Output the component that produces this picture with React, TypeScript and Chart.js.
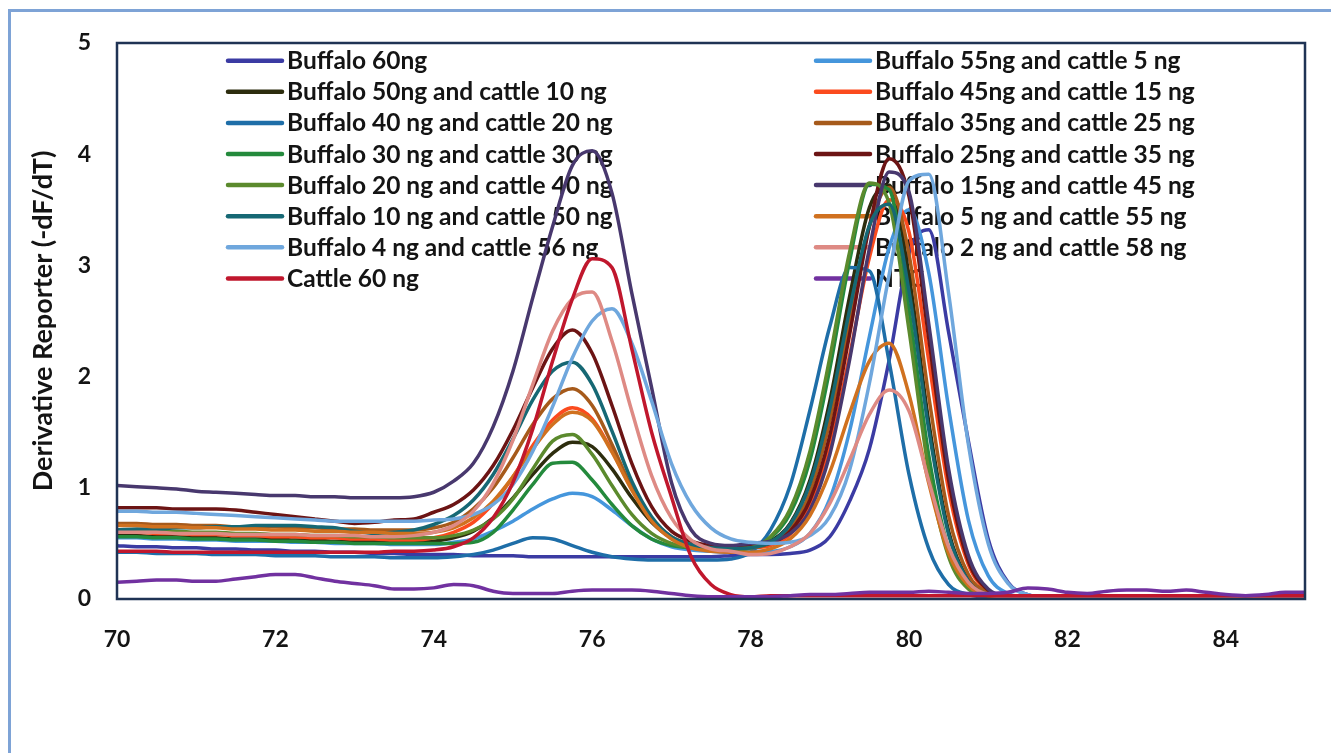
import React, { useEffect, useRef } from "react";
import { Chart, registerables } from "chart.js";

Chart.register(...registerables);

// Temperature grid (°C)
const TEMPS = [
  70, 70.25, 70.5, 70.75, 71, 71.25, 71.5, 71.75, 72, 72.25, 72.5, 72.75,
  73, 73.25, 73.5, 73.75, 74, 74.25, 74.5, 74.75, 75, 75.25, 75.5, 75.75,
  76, 76.25, 76.5, 76.75, 77, 77.25, 77.5, 77.75, 78, 78.25, 78.5, 78.75,
  79, 79.25, 79.5, 79.75, 80, 80.25, 80.5, 80.75, 81, 81.25, 81.5, 81.75,
  82, 82.25, 82.5, 82.75, 83, 83.25, 83.5, 83.75, 84, 84.25, 84.5, 84.75, 85,
];

const X_TICKS = [70, 72, 74, 76, 78, 80, 82, 84];
const Y_TICKS = [0, 1, 2, 3, 4, 5];

const buffalo60 = [
  .48, .47, .47, .46, .46, .45, .45, .44, .44, .43, .43, .42, .42, .41, .41, .40,
  .40, .40, .39, .39, .39, .38, .38, .38, .38, .38, .38, .38, .38, .38, .38, .39,
  .40, .40, .41, .44, .56, .88, 1.35, 2.15, 3.11, 3.32, 2.40, 1.42, .54, .15, .04, .02,
  .02, .02, .03, .02, .02, .02, .02, .03, .02, .02, .02, .02, .02,
];
const b55c5 = [
  .55, .55, .54, .54, .53, .53, .52, .52, .52, .51, .51, .50, .50, .50, .49, .49,
  .49, .51, .54, .61, .70, .81, .90, .95, .92, .80, .66, .54, .47, .44, .43, .42,
  .43, .43, .47, .59, .90, 1.51, 2.36, 3.16, 3.50, 2.93, 1.72, .71, .21, .05, .02, .02,
  .03, .02, .02, .02, .02, .03, .02, .02, .02, .02, .03, .02, .02,
];
const b50c10 = [
  .57, .57, .56, .56, .55, .55, .54, .54, .54, .53, .53, .52, .52, .52, .51, .51,
  .52, .55, .61, .73, .91, 1.12, 1.31, 1.41, 1.37, 1.17, .91, .69, .55, .48, .46, .45,
  .47, .52, .68, 1.07, 1.78, 2.72, 3.52, 3.72, 2.91, 1.59, .61, .17, .05, .02, .02, .02,
  .02, .03, .02, .02, .02, .02, .02, .03, .02, .02, .02, .02, .02,
];
const b45c15 = [
  .60, .60, .59, .59, .58, .58, .57, .57, .56, .56, .55, .55, .54, .54, .53, .53,
  .55, .60, .69, .86, 1.10, 1.38, 1.61, 1.72, 1.62, 1.33, .99, .72, .56, .49, .46, .45,
  .46, .48, .58, .83, 1.36, 2.19, 3.07, 3.59, 3.30, 2.14, .98, .31, .07, .02, .02, .03,
  .02, .02, .02, .03, .02, .02, .02, .02, .03, .02, .02, .02, .03,
];
const b40c20 = [
  .42, .42, .41, .41, .41, .40, .40, .40, .39, .39, .39, .38, .38, .38, .37, .37,
  .37, .38, .40, .44, .50, .55, .54, .48, .42, .38, .36, .35, .35, .35, .35, .36,
  .42, .62, 1.02, 1.70, 2.45, 2.98, 2.95, 2.13, 1.12, .45, .13, .04, .02, .02, .02, .02,
  .02, .02, .03, .02, .02, .02, .02, .02, .02, .03, .02, .02, .02,
];
const b35c25 = [
  .68, .68, .67, .67, .66, .66, .65, .65, .65, .64, .64, .63, .63, .62, .62, .62,
  .64, .69, .81, 1.00, 1.27, 1.57, 1.80, 1.89, 1.74, 1.39, 1.00, .72, .55, .48, .46, .45,
  .46, .50, .63, .96, 1.60, 2.50, 3.35, 3.70, 3.10, 1.82, .75, .22, .06, .02, .02, .02,
  .03, .02, .02, .02, .02, .02, .03, .02, .02, .02, .02, .02, .02,
];
const b30c30 = [
  .56, .56, .55, .55, .54, .54, .53, .53, .52, .52, .51, .51, .50, .50, .50, .50,
  .50, .50, .51, .60, .80, 1.03, 1.22, 1.23, 1.07, .85, .66, .54, .48, .46, .45, .44,
  .46, .55, .77, 1.25, 2.07, 3.04, 3.73, 3.68, 2.60, 1.29, .45, .11, .03, .02, .02, .02,
  .02, .02, .02, .02, .03, .02, .02, .02, .02, .02, .02, .03, .02,
];
const b25c35 = [
  .82, .82, .82, .81, .81, .81, .80, .78, .76, .74, .72, .70, .68, .69, .71, .72,
  .78, .85, .98, 1.20, 1.52, 1.90, 2.25, 2.42, 2.21, 1.74, 1.22, .83, .61, .52, .48, .47,
  .48, .50, .61, .89, 1.47, 2.38, 3.35, 3.96, 3.62, 2.34, 1.07, .34, .08, .02, .02, .02,
  .02, .02, .02, .02, .02, .02, .02, .02, .02, .02, .02, .02, .02,
];
const b20c40 = [
  .62, .62, .61, .61, .60, .60, .59, .59, .58, .58, .57, .57, .56, .56, .55, .55,
  .55, .57, .62, .72, .90, 1.17, 1.42, 1.48, 1.30, 1.02, .76, .59, .50, .46, .45, .45,
  .46, .56, .81, 1.33, 2.17, 3.12, 3.74, 3.56, 2.42, 1.15, .38, .09, .03, .02, .02, .02,
  .02, .02, .02, .02, .02, .03, .02, .02, .02, .02, .02, .02, .02,
];
const b15c45 = [
  1.02, 1.01, 1.00, .99, .97, .96, .95, .94, .93, .93, .92, .92, .91, .91, .91, .92,
  .96, 1.06, 1.22, 1.55, 2.05, 2.71, 3.35, 3.90, 4.03, 3.65, 2.75, 1.90, 1.05, .62, .50, .48,
  .50, .52, .59, .80, 1.30, 2.15, 3.15, 3.84, 3.66, 2.47, 1.17, .39, .09, .03, .02, .02,
  .02, .02, .02, .02, .02, .02, .02, .02, .02, .02, .02, .02, .02,
];
const b10c50 = [
  .62, .63, .63, .64, .64, .65, .65, .66, .66, .66, .65, .64, .61, .59, .60, .62,
  .67, .75, .89, 1.12, 1.44, 1.79, 2.05, 2.13, 1.93, 1.51, 1.06, .74, .56, .49, .46, .45,
  .46, .51, .67, 1.04, 1.71, 2.60, 3.36, 3.55, 2.77, 1.52, .58, .16, .04, .02, .02, .02,
  .02, .02, .02, .02, .02, .02, .02, .02, .02, .02, .02, .02, .02,
];
const b5c55 = [
  .66, .66, .65, .65, .64, .64, .63, .63, .62, .62, .61, .61, .60, .60, .59, .59,
  .60, .64, .73, .88, 1.10, 1.35, 1.57, 1.68, 1.60, 1.32, .98, .70, .54, .46, .43, .42,
  .42, .45, .54, .75, 1.14, 1.67, 2.14, 2.30, 1.84, 1.04, .41, .12, .03, .02, .02, .02,
  .02, .02, .02, .02, .02, .02, .02, .02, .02, .02, .02, .02, .02,
];
const b4c56 = [
  .79, .79, .78, .78, .77, .76, .75, .74, .73, .72, .71, .70, .70, .70, .70, .70,
  .71, .72, .76, .85, 1.03, 1.33, 1.73, 2.17, 2.50, 2.61, 2.30, 1.78, 1.22, .85, .64, .54,
  .51, .50, .51, .57, .74, 1.16, 1.94, 2.92, 3.76, 3.82, 2.75, 1.39, .50, .14, .04, .02,
  .02, .02, .02, .02, .02, .02, .02, .02, .02, .02, .02, .02, .02,
];
const b2c58 = [
  .60, .60, .60, .59, .59, .59, .58, .58, .58, .58, .57, .57, .57, .56, .56, .57,
  .60, .66, .79, 1.04, 1.43, 1.93, 2.41, 2.70, 2.76, 2.32, 1.69, 1.11, .73, .53, .45, .43,
  .40, .41, .47, .59, .86, 1.25, 1.66, 1.88, 1.69, 1.06, .47, .15, .04, .02, .02, .02,
  .02, .02, .02, .02, .02, .02, .02, .02, .02, .02, .02, .02, .02,
];
const cattle60 = [
  .43, .43, .43, .42, .42, .42, .42, .42, .42, .42, .42, .42, .42, .42, .43, .43,
  .44, .47, .55, .73, 1.05, 1.53, 2.14, 2.70, 3.06, 2.98, 2.25, 1.50, .92, .38, .13, .04,
  .02, .03, .03, .03, .03, .03, .03, .03, .03, .03, .03, .03, .03, .03, .03, .03,
  .03, .03, .03, .03, .03, .03, .03, .03, .03, .03, .03, .03, .03,
];
const ntc = [
  .15, .16, .17, .17, .16, .16, .18, .20, .22, .22, .19, .16, .14, .12, .09, .09,
  .10, .13, .12, .07, .05, .05, .05, .07, .08, .08, .08, .07, .05, .03, .02, .02,
  .02, .02, .03, .04, .04, .05, .06, .06, .06, .07, .06, .05, .05, .06, .10, .09,
  .06, .05, .07, .08, .08, .07, .08, .06, .04, .03, .04, .06, .06,
];

const SERIES_LABELS = [
  "Buffalo 60ng",
  "Buffalo 55ng and cattle 5 ng",
  "Buffalo 50ng and cattle 10 ng",
  "Buffalo 45ng and cattle 15 ng",
  "Buffalo 40 ng and cattle 20 ng",
  "Buffalo 35ng and cattle 25 ng",
  "Buffalo 30 ng and cattle 30 ng",
  "Buffalo 25ng and cattle 35 ng",
  "Buffalo 20 ng and cattle 40 ng",
  "Buffalo 15ng and cattle 45 ng",
  "Buffalo 10 ng and cattle 50 ng",
  "Buffalo 5 ng and cattle 55 ng",
  "Buffalo 4 ng and cattle 56 ng",
  "Buffalo 2 ng and cattle 58 ng",
  "Cattle 60 ng",
  "NTC",
];

const SERIES_VALUES = [
  buffalo60, b55c5, b50c10, b45c15, b40c20, b35c25, b30c30, b25c35,
  b20c40, b15c45, b10c50, b5c55, b4c56, b2c58, cattle60, ntc,
];

const SERIES_COLORS = [
  "#3b3ba3", "#4596dc", "#2d2d0e", "#fb4b1e", "#1e6ea8", "#a65a1b",
  "#248a3c", "#6c1414", "#5b8a2d", "#48386e", "#166874", "#d0711f",
  "#6fa7dd", "#de8a84", "#c0172d", "#7131a0",
];

const Y_TITLE = "Derivative Reporter (-dF/dT)";
const FONT = "Lato";
const TEXT = "#141414";

const legendAndFrame = {
  id: "legendAndFrame",
  beforeDatasetsDraw(chart: any) {
    const { ctx, chartArea: a } = chart;
    ctx.save();
    chart.data.datasets.forEach((ds: any, i: number) => {
      const col = i % 2;
      const row = Math.floor(i / 2);
      const lx = a.left + (col === 0 ? 111 : 699);
      const y = a.top + 17.7 + row * 31.1;
      ctx.strokeStyle = ds.borderColor;
      ctx.lineWidth = 4.5;
      ctx.lineCap = "round";
      ctx.beginPath();
      ctx.moveTo(lx, y);
      ctx.lineTo(lx + 54, y);
      ctx.stroke();
      ctx.fillStyle = TEXT;
      ctx.font = `bold 24.5px ${FONT}`;
      ctx.textAlign = "left";
      ctx.textBaseline = "alphabetic";
      ctx.fillText(ds.label, lx + 59, y + 8.5);
    });
    ctx.restore();
  },
  afterDatasetsDraw(chart: any) {
    const { ctx, chartArea: a } = chart;
    ctx.save();
    ctx.strokeStyle = "#1f3354";
    ctx.lineWidth = 2.5;
    ctx.strokeRect(a.left, a.top, a.right - a.left, a.bottom - a.top);
    ctx.restore();
  },
};

export default function App() {
  const ref = useRef<HTMLCanvasElement | null>(null);

  useEffect(() => {
    if (!ref.current) return;
    const datasets = SERIES_LABELS.map((label, i) => ({
      label,
      data: TEMPS.map((t, k) => ({ x: t, y: SERIES_VALUES[i][k] })),
      borderColor: SERIES_COLORS[i],
      backgroundColor: SERIES_COLORS[i],
      borderWidth: 3.5,
      pointRadius: 0,
      cubicInterpolationMode: "monotone" as const,
      fill: false,
      order: SERIES_LABELS.length - i,
    }));

    const chart = new Chart(ref.current, {
      type: "line",
      data: { datasets },
      plugins: [legendAndFrame],
      options: {
        responsive: false,
        animation: false,
        devicePixelRatio: 1,
        layout: { padding: { top: 43, right: 26, bottom: 0, left: 0 } },
        plugins: {
          legend: { display: false },
          tooltip: { enabled: false },
          title: { display: false },
        },
        scales: {
          x: {
            type: "linear",
            min: X_TICKS[0],
            max: 85,
            afterFit: (s: any) => { s.height = 154; },
            afterBuildTicks: (s: any) => { s.ticks = X_TICKS.map((v) => ({ value: v })); },
            grid: { display: false, drawTicks: false },
            border: { display: false },
            ticks: {
              padding: 27,
              color: TEXT,
              font: { family: FONT, size: 23, weight: "bold" },
              maxRotation: 0,
            },
          },
          y: {
            min: Y_TICKS[0],
            max: Y_TICKS[Y_TICKS.length - 1],
            afterFit: (s: any) => { s.width = 117; },
            afterBuildTicks: (s: any) => { s.ticks = Y_TICKS.map((v) => ({ value: v })); },
            grid: { display: false, drawTicks: false },
            border: { display: false },
            ticks: {
              padding: 26,
              color: TEXT,
              font: { family: FONT, size: 23, weight: "bold" },
            },
            title: {
              display: true,
              text: Y_TITLE,
              color: TEXT,
              font: { family: FONT, size: 27, weight: "bold" },
              padding: { top: 27, bottom: 0 },
            },
          },
        },
      },
    });
    return () => chart.destroy();
  }, []);

  return (
    <div
      style={{
        position: "fixed",
        left: 0,
        top: 0,
        width: 1331,
        height: 753,
        overflow: "hidden",
        background: "#ffffff",
      }}
    >
      <div
        style={{
          position: "absolute",
          left: 8,
          top: 9,
          width: 1400,
          height: 900,
          border: "3px solid #7ea3d6",
          boxSizing: "border-box",
        }}
      />
      <canvas
        ref={ref}
        width={1331}
        height={753}
        style={{ position: "absolute", left: 0, top: 0, width: 1331, height: 753 }}
      />
    </div>
  );
}
